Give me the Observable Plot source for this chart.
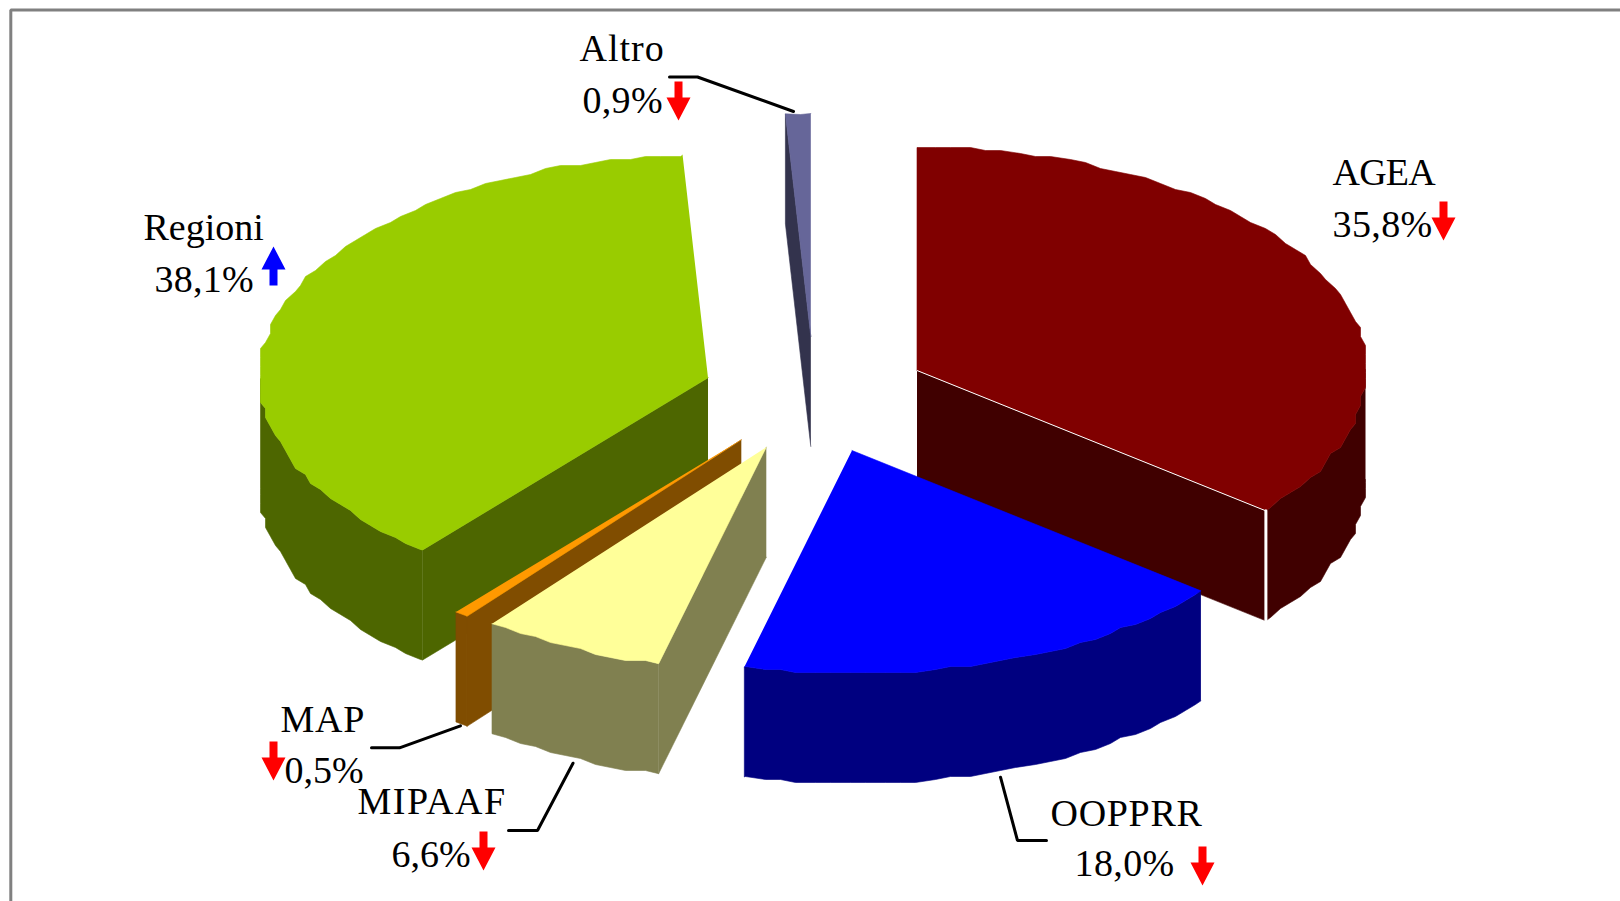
<!DOCTYPE html>
<html>
<head>
<meta charset="utf-8">
<script src="https://cdn.jsdelivr.net/npm/d3@7"></script>
<script src="https://cdn.jsdelivr.net/npm/@observablehq/plot@0.6"></script>
<style>
html,body{margin:0;padding:0;background:#fff;overflow:hidden}
svg{display:block}
</style>
</head>
<body>
<div id="chart"></div>
<script>
// ---- data (clockwise from 12 o'clock) ----
const categories = ["AGEA", "OOPPRR", "MIPAAF", "MAP", "Regioni", "Altro"];
const shares     = [35.8, 18.0, 6.6, 0.5, 38.1, 0.9];
const shareTexts = ["35,8%", "18,0%", "6,6%", "0,5%", "38,1%", "0,9%"];
const trends     = ["down", "down", "down", "down", "up", "down"];

// ---- styles ----
const topFills  = ["#800000", "#0000ff", "#ffff99", "#ff9900", "#99cc00", "#666699"];
const sideFills = ["#400000", "#000080", "#808050", "#804d00", "#4d6600", "#33334d"];
const trendFills = {up: "#0000ff", down: "#ff0000"};

// ---- layout (page pixels) ----
const apexX = [916.5, 851.5, 765.8, 740.8, 707.5, 810.3];
const apexY = [370, 450, 446.7, 439.3, 377.3, 336];
const radiusX = 449, radiusY = 223, depth = 110;
const nameAt  = [[1332,184],[1050,825],[357,813],[280,731],[143,239],[579,60]];
const shareAt = [[1332,236],[1074,875],[391,866],[284,782],[154,291],[582,112]];
const nameSpacing  = [-0.8, 0.7, 1.5, 0.7, 0, 1.0];
const shareSpacing = [0.4, 0.4, 0, 0, 0.25, 0.3];
const arrowAt = [[1443,201],[1202,846],[483,831],[273,741],[273,246],[678,81]];
const leaders = [
  [[669,76.5],[697,76.5],[793,111]],
  [[371,747.3],[399,747.3],[460,725.3]],
  [[508,830],[537,830],[572.5,762.7]],
  [[1000,776.7],[1017,840],[1046,840]]
];
// the reference rim is a coarse polygon: vertices sit on a coarse pixel grid
const rimGridX = 5, rimGridY = 3, rimStepDegrees = 2.2;

// ---- geometry: true pie angles on an ellipse ----
const total = d3.sum(shares);
const stepRad = rimStepDegrees * Math.PI / 180;
let acc = 0;
const slices = categories.map((c, i) => {
  const a0 = acc / total * 2 * Math.PI; acc += shares[i];
  const a1 = acc / total * 2 * Math.PI;
  return {i, a0, a1, ax: apexX[i], ay: apexY[i]};
});
const rim = (s, a, dz = 0) => [s.ax + radiusX * Math.sin(a), s.ay - radiusY * Math.cos(a) + dz];
const snap = ([x, y]) => [Math.round(x / rimGridX) * rimGridX, Math.round(y / rimGridY) * rimGridY];
// one shared set of angles, so a slice's top rim and its wall use the same vertices
const arc = (s, a0, a1, dz = 0) => {
  const inner = d3.range(Math.ceil(a0 / stepRad + 1e-6), Math.floor(a1 / stepRad - 1e-6) + 1).map(k => k * stepRad);
  const snapped = a => {
    const p = rim(s, a, dz);
    if (Math.abs(a - s.a0) < 1e-9 || Math.abs(a - s.a1) < 1e-9) return p;
    const q = snap(rim(s, a, 0));
    return [q[0], q[1] + dz];
  };
  return [a0, ...inner, a1].map(snapped);
};
const polygons = [];
// back to front
for (const idx of [5, 0, 4, 3, 2, 1]) {
  const s = slices[idx], side = sideFills[idx], top = topFills[idx];
  const apex = [s.ax, s.ay], apexLow = [s.ax, s.ay + depth];
  const lo = Math.max(s.a0, Math.PI / 2), hi = Math.min(s.a1, 3 * Math.PI / 2);
  if (Math.sin(s.a0) < -1e-6) polygons.push({fill: side, pts: [apex, rim(s, s.a0), rim(s, s.a0, depth), apexLow]});
  if (Math.sin(s.a1) > 1e-6)  polygons.push({fill: side, pts: [apex, rim(s, s.a1), rim(s, s.a1, depth), apexLow]});
  if (hi > lo) polygons.push({fill: side, pts: [...arc(s, lo, hi), ...arc(s, lo, hi, depth).reverse()]});
  polygons.push({fill: top, pts: [apex, ...arc(s, s.a0, s.a1)]});
}
const ageaEdge = rim(slices[0], slices[0].a1);

const arrowShape = (x, y, dir) =>
  [[-4,0],[4,0],[4,16],[12,16],[0,39],[-12,16],[-4,16]].map(([dx, dy]) =>
    dir === "down" ? [x + dx, y + dy] : [x + dx, y + 39 - dy]);

const nameRows  = categories.map((t, i) => ({t, x: nameAt[i][0], y: nameAt[i][1]}));
const shareRows = shareTexts.map((t, i) => ({t, x: shareAt[i][0], y: shareAt[i][1]}));
const X = d => d[0], Y = d => d[1];

const chart = Plot.plot({
  width: 1620, height: 901, margin: 0,
  x: {domain: [0, 1620], range: [0, 1620], axis: null},
  y: {domain: [0, 901], range: [0, 901], axis: null},
  style: {background: "#fff", fontFamily: "'Liberation Serif', serif"},
  marks: [
    Plot.line([[10.3, 901], [10.3, 9.5], [1620, 9.5]], {x: X, y: Y, stroke: "#808080", strokeWidth: 3, strokeLinejoin: "miter"}),
    ...polygons.map(p => Plot.line(p.pts, {x: X, y: Y, fill: p.fill, stroke: p.fill, strokeWidth: 0.6})),
    Plot.line([[slices[0].ax, slices[0].ay], ageaEdge], {x: X, y: Y, stroke: "#fff", strokeWidth: 1}),
    Plot.line([ageaEdge, [ageaEdge[0], ageaEdge[1] + depth + 2]], {x: X, y: Y, stroke: "#fff", strokeWidth: 3}),
    ...leaders.map(l => Plot.line(l, {x: X, y: Y, stroke: "#000", strokeWidth: 3, strokeLinejoin: "miter"})),
    ...trends.map((d, i) => Plot.line(arrowShape(arrowAt[i][0], arrowAt[i][1], d), {x: X, y: Y, fill: trendFills[d], stroke: "none"})),
    Plot.text(nameRows, {x: "x", y: "y", text: "t", textAnchor: "start", lineAnchor: "bottom", fontSize: 38, fill: "#000"}),
    Plot.text(shareRows, {x: "x", y: "y", text: "t", textAnchor: "start", lineAnchor: "bottom", fontSize: 38, fill: "#000"})
  ]
});
// per-label tracking, as the reference's letters are spaced unevenly
const tracking = new Map([
  ...categories.map((t, i) => [t, nameSpacing[i]]),
  ...shareTexts.map((t, i) => [t, shareSpacing[i]])
]);
chart.querySelectorAll("text").forEach(el => {
  const v = tracking.get(el.textContent.trim());
  if (v) el.style.letterSpacing = v + "px";
});
document.getElementById("chart").append(chart);
</script>
</body>
</html>
